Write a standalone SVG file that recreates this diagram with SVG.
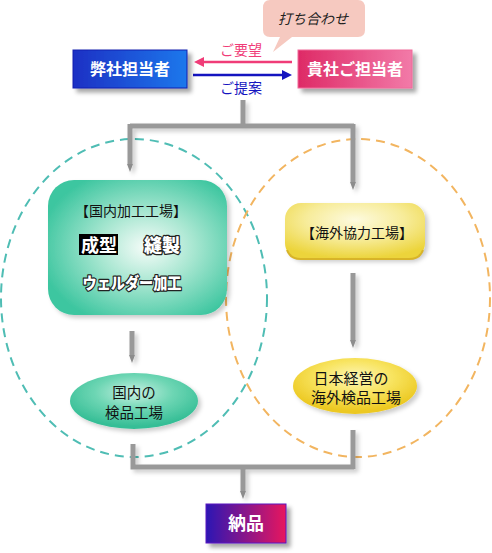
<svg xmlns="http://www.w3.org/2000/svg" width="492" height="553" viewBox="0 0 492 553">
  <defs>
    <linearGradient id="gBlue" x1="0" y1="0" x2="1" y2="0">
      <stop offset="0" stop-color="#1a30c4"/>
      <stop offset="1" stop-color="#1f78ec"/>
    </linearGradient>
    <linearGradient id="gPink" x1="0" y1="0" x2="1" y2="0">
      <stop offset="0" stop-color="#de2a66"/>
      <stop offset="1" stop-color="#f27aa8"/>
    </linearGradient>
    <linearGradient id="gPurple" x1="0" y1="0" x2="1" y2="0">
      <stop offset="0" stop-color="#2c14b4"/>
      <stop offset="1" stop-color="#e8125e"/>
    </linearGradient>
    <radialGradient id="gGreen" cx="0.55" cy="0.5" r="0.6">
      <stop offset="0" stop-color="#f6fcf9"/>
      <stop offset="0.45" stop-color="#a6e6d0"/>
      <stop offset="1" stop-color="#3ec6a0"/>
    </radialGradient>
    <radialGradient id="gYellow" cx="0.5" cy="0.3" r="0.7">
      <stop offset="0" stop-color="#fdfadf"/>
      <stop offset="0.5" stop-color="#f7ec9a"/>
      <stop offset="1" stop-color="#ecd43a"/>
    </radialGradient>
    <radialGradient id="gGreenE" cx="0.5" cy="0.35" r="0.6">
      <stop offset="0" stop-color="#c8f0e2"/>
      <stop offset="0.5" stop-color="#6ed6b4"/>
      <stop offset="1" stop-color="#36be96"/>
    </radialGradient>
    <radialGradient id="gYellowE" cx="0.5" cy="0.35" r="0.6">
      <stop offset="0" stop-color="#fdf6b8"/>
      <stop offset="0.5" stop-color="#f8e460"/>
      <stop offset="1" stop-color="#ecc820"/>
    </radialGradient>
    <filter id="sh" x="-20%" y="-20%" width="150%" height="160%">
      <feDropShadow dx="4" dy="4" stdDeviation="2" flood-color="#000" flood-opacity="0.35"/>
    </filter>
    <filter id="shLight" x="-20%" y="-20%" width="150%" height="160%">
      <feDropShadow dx="3" dy="3" stdDeviation="2" flood-color="#000" flood-opacity="0.2"/>
    </filter>
    <marker id="gArrow" viewBox="0 0 8 6" refX="0" refY="3" markerWidth="8" markerHeight="6" markerUnits="userSpaceOnUse" orient="auto">
      <path d="M0,0 L8,3 L0,6 z" fill="#8c8c8c"/>
    </marker>
    <marker id="redArrow" viewBox="0 0 10 10" refX="1" refY="5" markerWidth="10" markerHeight="10" markerUnits="userSpaceOnUse" orient="auto">
      <path d="M0,0 L10,5 L0,10 z" fill="#f03c78"/>
    </marker>
    <marker id="blueArrow" viewBox="0 0 10 10" refX="1" refY="5" markerWidth="10" markerHeight="10" markerUnits="userSpaceOnUse" orient="auto">
      <path d="M0,0 L10,5 L0,10 z" fill="#1414c0"/>
    </marker>
  </defs>
  <style>
    text { font-family: "Noto Sans CJK JP", "Noto Sans", sans-serif; text-anchor: middle; }
    .boxText { fill: #ffffff; font-size: 16px; font-weight: bold; }
    .dark { fill: #111111; font-size: 14.5px; }
    .lbl { font-size: 14px; }
    .conn { fill: none; stroke: #999999; stroke-width: 5; }
    .outline { fill: #ffffff; stroke: #222222; stroke-width: 2.5; paint-order: stroke; font-weight: 900; stroke-linejoin: round; }
  </style>

  <!-- dashed ellipses -->
  <g id="domestic-area">
    <ellipse cx="134" cy="298" rx="133" ry="159" fill="none" stroke="#4fbdb4" stroke-width="2" stroke-dasharray="9,6"/>
  </g>
  <g id="overseas-area">
    <ellipse cx="358" cy="298" rx="132" ry="159" fill="none" stroke="#f2b560" stroke-width="2" stroke-dasharray="9,6"/>
  </g>

  <!-- connectors -->
  <g id="connectors">
    <g filter="url(#shLight)">
      <path class="conn" d="M243,100 V126 M130,126 H354" />
      <path class="conn" d="M130,124 V164" marker-end="url(#gArrow)"/>
      <path class="conn" d="M353,124 V182" marker-end="url(#gArrow)"/>
      <path class="conn" d="M132,331 V355" marker-end="url(#gArrow)"/>
      <path class="conn" d="M353,273 V340" marker-end="url(#gArrow)"/>
      <path class="conn" d="M133,444 V467 H354 M353,430 V469"/>
      <path class="conn" d="M243,467 V491" marker-end="url(#gArrow)"/>
    </g>
    <line x1="292" y1="62" x2="203" y2="62" stroke="#f03c78" stroke-width="2.5" marker-end="url(#redArrow)"/>
    <line x1="193" y1="75" x2="283" y2="75" stroke="#1414c0" stroke-width="2.5" marker-end="url(#blueArrow)"/>
    <text x="241" y="55" class="lbl" fill="#f03c78">ご要望</text>
    <text x="241" y="93" class="lbl" fill="#1414c0">ご提案</text>
  </g>

  <!-- speech bubble -->
  <g id="uchiawase">
    <path d="M270,0 H358 Q365,0 365,8 V30 Q365,37 358,37 H292 L273,52 L280,37 H270 Q263,37 263,30 V8 Q263,0 270,0 Z" fill="#f6c9c0"/>
    <text x="313" y="24" class="lbl" fill="#222" font-style="italic">打ち合わせ</text>
  </g>

  <g id="our-staff">
    <rect x="73" y="50" width="114" height="38" fill="url(#gBlue)" stroke="#1020b0" stroke-width="1" filter="url(#sh)"/>
    <text x="130" y="75" class="boxText">弊社担当者</text>
  </g>

  <g id="your-staff">
    <rect x="298" y="50" width="114" height="38" fill="url(#gPink)" stroke="#f06a9a" stroke-width="1" filter="url(#sh)"/>
    <text x="355" y="75" class="boxText">貴社ご担当者</text>
  </g>

  <g id="domestic-factory">
    <rect x="48" y="180" width="179" height="135" rx="26" ry="26" fill="url(#gGreen)" filter="url(#shLight)"/>
    <text x="131" y="216" class="dark" style="font-size:14px">【国内加工工場】</text>
    <rect x="79" y="234" width="39" height="21" fill="#000"/>
    <text x="99" y="252" fill="#fff" style="font-size:18px;font-weight:bold">成型</text>
    <text x="162" y="252" class="outline" style="font-size:18px">縫製</text>
    <text x="132" y="289" class="outline" style="font-size:16px" textLength="99" lengthAdjust="spacingAndGlyphs">ウェルダー加工</text>
  </g>

  <g id="overseas-factory">
    <rect x="285" y="203" width="140" height="56" rx="16" ry="16" fill="url(#gYellow)" filter="url(#shLight)"/>
    <path d="M287,250 Q290,259 301,259 H409 Q420,259 423,250" fill="none" stroke="#d8b428" stroke-width="2"/>
    <text x="357" y="238" class="dark" style="font-size:14px">【海外協力工場】</text>
  </g>

  <g id="domestic-inspection">
    <ellipse cx="134" cy="401" rx="64" ry="28" fill="url(#gGreenE)" filter="url(#shLight)"/>
    <text x="134" y="398" class="dark">国内の</text>
    <text x="134" y="418" class="dark">検品工場</text>
  </g>

  <g id="overseas-inspection">
    <ellipse cx="355" cy="386" rx="62" ry="28" fill="url(#gYellowE)" filter="url(#shLight)"/>
    <text x="351" y="384" class="dark" style="font-size:15px">日本経営の</text>
    <text x="356" y="403" class="dark" style="font-size:15px">海外検品工場</text>
  </g>

  <g id="delivery">
    <rect x="206" y="504" width="80" height="39" fill="url(#gPurple)" stroke="#5a18c0" stroke-width="1" filter="url(#sh)"/>
    <text x="246" y="530" fill="#fff" style="font-size:18px;font-weight:bold">納品</text>
  </g>
</svg>
